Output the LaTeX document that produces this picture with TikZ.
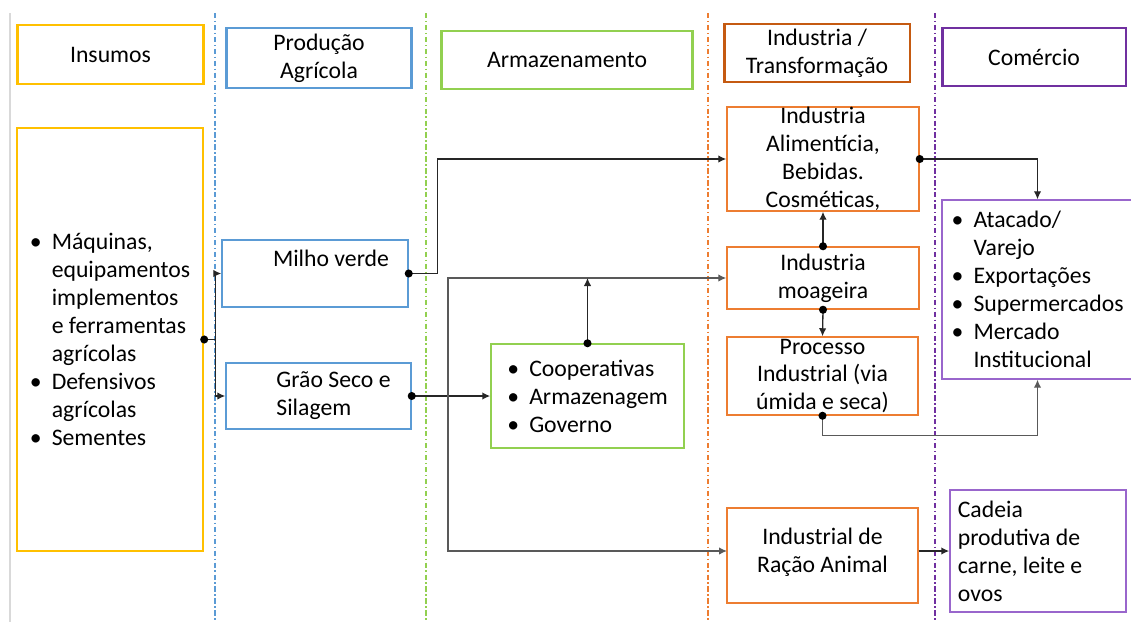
\documentclass[tikz,border=0pt]{standalone}
\usepackage{fontspec}
\setmainfont{Carlito}
\usepackage{tikz}
\usetikzlibrary{arrows.meta}
\definecolor{insY}{HTML}{FFC000}
\definecolor{prodB}{HTML}{5B9BD5}
\definecolor{armG}{HTML}{92D050}
\definecolor{indD}{HTML}{C55A11}
\definecolor{indL}{HTML}{ED7D31}
\definecolor{comD}{HTML}{7030A0}
\definecolor{comL}{HTML}{9966CC}
\tikzset{
	hdr/.style={draw,line width=1.7pt,align=center,inner sep=0pt},
	cbox/.style={draw,line width=0.85pt,inner sep=0pt},
	flow/.style={-{Latex[length=1.6mm,width=1.5mm]},draw=black!85,line width=0.75pt},
	colsep/.style={line width=0.7pt,dash pattern=on 3pt off 1.5pt on 0.8pt off 1.5pt}
}
\newcommand{\bul}{\makebox[0.44cm][l]{\textbullet}}
\newcommand{\gap}{\hspace*{0.44cm}}

\begin{document}
\begin{tikzpicture}[x=0.02cm,y=-0.02cm,font=\fontsize{13.5}{15.9}\selectfont]
	\useasboundingbox (0,0) rectangle (1131,622);
	% column separators
	\draw[black!15,line width=0.8pt] (10,13) -- (10,622);
	\foreach \x/\c in {215/prodB,426/armG,708/indL,935/comD}
	\draw[colsep,draw=\c] (\x,13) -- (\x,622);
	% headers
	\node[hdr,draw=insY,minimum width=3.74cm,minimum height=1.18cm] (hins) at (110.5,54.5) {Insumos};
	\node[hdr,draw=prodB,minimum width=3.72cm,minimum height=1.2cm] (hprod) at (319,58) {Produção\\Agrícola};
	\node[hdr,draw=armG,minimum width=5.04cm,minimum height=1.16cm] (harm) at (567,60) {Armazenamento};
	\node[hdr,draw=indD,minimum width=3.72cm,minimum height=1.16cm] (hind) at (817,53) {Industria /\\Transformação};
	\node[hdr,draw=comD,minimum width=3.68cm,minimum height=1.16cm] (hcom) at (1034,57) {Comércio};
	% boxes
	\node[cbox,draw=insY,line width=1.4pt,minimum width=3.72cm,minimum height=8.46cm,
		label={[align=left]center:{\bul Máquinas,\\\gap equipamentos\\\gap implementos\\\gap e ferramentas\\\gap agrícolas\\\bul Defensivos\\\gap agrícolas\\\bul Sementes}}] (ins) at (110,339.5) {};
	\node[cbox,draw=prodB,minimum width=3.72cm,minimum height=1.34cm,
		label={[xshift=0.32cm,yshift=0.31cm]center:Milho verde}] (milho) at (315,273.5) {};
	\node[cbox,draw=prodB,minimum width=3.7cm,minimum height=1.32cm,
		label={[align=left,xshift=0.3cm]center:{Grão Seco e\\Silagem}}] (grao) at (318.5,396) {};
	\node[cbox,draw=armG,minimum width=3.86cm,minimum height=2.08cm,
		label={[align=left]center:{\bul Cooperativas\\\bul Armazenagem\\\bul Governo}}] (coop) at (587.5,396) {};
	\node[cbox,draw=indL,minimum width=3.84cm,minimum height=2.08cm,
		label={[align=center]center:{Industria\\Alimentícia,\\Bebidas.\\Cosméticas,}}] (alim) at (823,159) {};
	\node[cbox,draw=indL,minimum width=3.84cm,minimum height=1.24cm,
		label={[align=center]center:{Industria\\moageira}}] (moag) at (823,278) {};
	\node[cbox,draw=indL,minimum width=3.82cm,minimum height=1.56cm,
		label={[align=center]center:{Processo\\Industrial (via\\úmida e seca)}}] (proc) at (822.5,376) {};
	\node[cbox,draw=indL,minimum width=3.82cm,minimum height=1.9cm,
		label={[align=center,yshift=0.07cm]center:{Industrial de\\Ração Animal}}] (racao) at (822.5,555.5) {};
	\node[cbox,draw=comL,minimum width=3.82cm,minimum height=3.58cm,
		label={[align=left]center:{\bul Atacado/\\\gap Varejo\\\bul Exportações\\\bul Supermercados\\\bul Mercado\\\gap Institucional}}] (com) at (1037.5,289.5) {};
	\node[cbox,draw=comL,minimum width=3.52cm,minimum height=2.44cm,
		label={[align=left,xshift=-0.36cm]center:{Cadeia\\produtiva de\\carne, leite e\\ovos}}] (cadeia) at (1038,551) {};
	% connectors
	\coordinate (jn) at (448,396);
	\coordinate (rin) at (727,551);
	\draw[flow] (ins.east) -- ++(11,0) |- (milho.west);
	\draw[flow] (ins.east) -- ++(11,0) |- (grao.west);
	\draw[flow] (milho.east) -- ++(29,0) |- (alim.west);
	\draw[flow,line width=1.1pt] (grao.east) -- (coop.west);
	\draw[flow,draw=black!65] (jn) |- (moag.west);
	\draw[flow,draw=black!65] (jn) |- (rin);
	\draw[flow] (coop.north) -- (coop.north |- moag.west);
	\draw[flow] (moag.north) -- (alim.south);
	\draw[flow] (moag.south) -- (proc.north);
	\draw[flow] (alim.east) -| (com.north);
	\draw[flow,draw=black!65] (proc.south) -- ++(0,20) -| (com.south);
	\draw[flow,line width=1.4pt] (racao.east |- rin) -- (cadeia.west);
	\foreach \p in {ins.east,milho.east,grao.east,coop.north,moag.north,moag.south,alim.east,proc.south}
	\fill (\p) circle (2.3pt);
\end{tikzpicture}
\end{document}
